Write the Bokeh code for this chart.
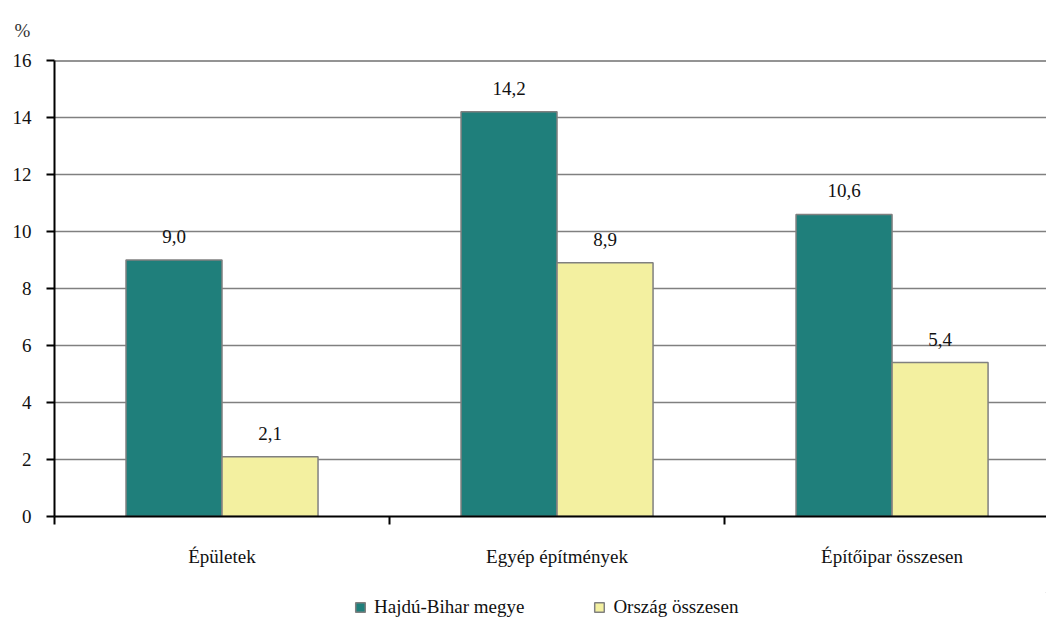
from bokeh.plotting import figure
from bokeh.layouts import column
from bokeh.models import Range1d, FixedTicker, Legend, LegendItem, Span, ColumnDataSource, Title
from bokeh.core.properties import value
from bokeh.embed import file_html
from bokeh.resources import INLINE

categories = ["Épületek", "Egyép építmények", "Építőipar összesen"]
hajdu = [9.0, 14.2, 10.6]
orszag = [2.1, 8.9, 5.4]
series_names = ["Hajdú-Bihar megye", "Ország összesen"]
y_ticks = [0, 2, 4, 6, 8, 10, 12, 14, 16]

FONT = "Liberation Serif"
TEAL = "#1f7f7b"
YELLOW = "#f3f0a0"

p = figure(frame_width=992, frame_height=456, output_backend="svg", toolbar_location=None,
           x_range=Range1d(0, 2.961), y_range=Range1d(0, 16),
           min_border_left=54, min_border_right=0, min_border_top=60, min_border_bottom=76)
p.outline_line_color = None
p.background_fill_color = "white"
p.border_fill_color = "white"

centers = [i + 0.5 for i in range(len(categories))]
bw = 0.2866
off = 0.1433
src1 = ColumnDataSource(dict(x=[c - off for c in centers], top=hajdu,
                             lab=[f"{v:.1f}".replace(".", ",") for v in hajdu]))
src2 = ColumnDataSource(dict(x=[c + off for c in centers], top=orszag,
                             lab=[f"{v:.1f}".replace(".", ",") for v in orszag]))
r1 = p.vbar(x="x", top="top", width=bw, bottom=0, source=src1, fill_color=TEAL,
            line_color="#808080", line_width=1.5)
r2 = p.vbar(x="x", top="top", width=bw, bottom=0, source=src2, fill_color=YELLOW,
            line_color="#808080", line_width=1.5)
for s in (src1, src2):
    p.text(x="x", y="top", text="lab", source=s, text_align="center", text_baseline="bottom",
           y_offset=-17, text_font=value(FONT), text_font_size="19px", text_color="#111111")

p.xgrid.visible = False
p.ygrid.ticker = FixedTicker(ticks=y_ticks)
p.ygrid.grid_line_color = "#808080"
p.ygrid.grid_line_width = 1.5
p.add_layout(Span(location=16, dimension="width", line_color="#2a2a2a", line_width=2))

yax = p.yaxis[0]
yax.ticker = FixedTicker(ticks=y_ticks)
yax.axis_line_color = "black"
yax.axis_line_width = 2
yax.major_tick_line_width = 2
yax.major_tick_out = 8
yax.major_tick_in = 0
yax.minor_tick_line_color = None
yax.major_label_standoff = 15
yax.major_label_text_font = FONT
yax.major_label_text_font_size = "19px"
yax.major_label_text_color = "#111111"

xax = p.xaxis[0]
xax.ticker = FixedTicker(ticks=centers, minor_ticks=[0, 1, 2, 3])
xax.major_label_overrides = {c: n for c, n in zip(centers, categories)}
xax.axis_line_color = "black"
xax.axis_line_width = 2
xax.major_tick_line_color = None
xax.major_tick_out = 0
xax.minor_tick_line_width = 2
xax.minor_tick_out = 8
xax.minor_tick_in = 0
xax.major_label_standoff = 21
xax.major_label_text_font = FONT
xax.major_label_text_font_size = "19px"
xax.major_label_text_color = "#111111"

p.title = Title(text="%", text_font=FONT, text_font_size="19px", text_color="#333333",
                text_font_style="normal", align="left", vertical_align="top",
                offset=-40, standoff=36)

# legend strip below the chart (legend-only renderers sit outside the visible range)
p2 = figure(width=1046, height=30, output_backend="svg", toolbar_location=None,
            x_range=Range1d(0, 1), y_range=Range1d(0, 1),
            x_axis_type=None, y_axis_type=None,
            min_border_left=0, min_border_right=0, min_border_top=0, min_border_bottom=0)
p2.outline_line_color = None
p2.background_fill_color = "white"
p2.border_fill_color = "white"
d1 = p2.vbar(x=[5], top=[5], bottom=[4], width=0.1, fill_color=TEAL,
             line_color="#808080", line_width=1.5)
d2 = p2.vbar(x=[5], top=[5], bottom=[4], width=0.1, fill_color=YELLOW,
             line_color="#808080", line_width=1.5)

legend = Legend(items=[LegendItem(label=series_names[0], renderers=[d1]),
                       LegendItem(label=series_names[1], renderers=[d2])],
                orientation="horizontal", location=(300, 4),
                label_text_font=FONT, label_text_font_size="19px", label_text_color="#111111",
                glyph_width=12, glyph_height=12, spacing=69, label_standoff=8,
                border_line_color=None, background_fill_alpha=0, padding=0, margin=0)
p2.add_layout(legend, "center")

layout = column(p, p2, spacing=0)
open("out.html", "w").write(file_html(layout, INLINE))
